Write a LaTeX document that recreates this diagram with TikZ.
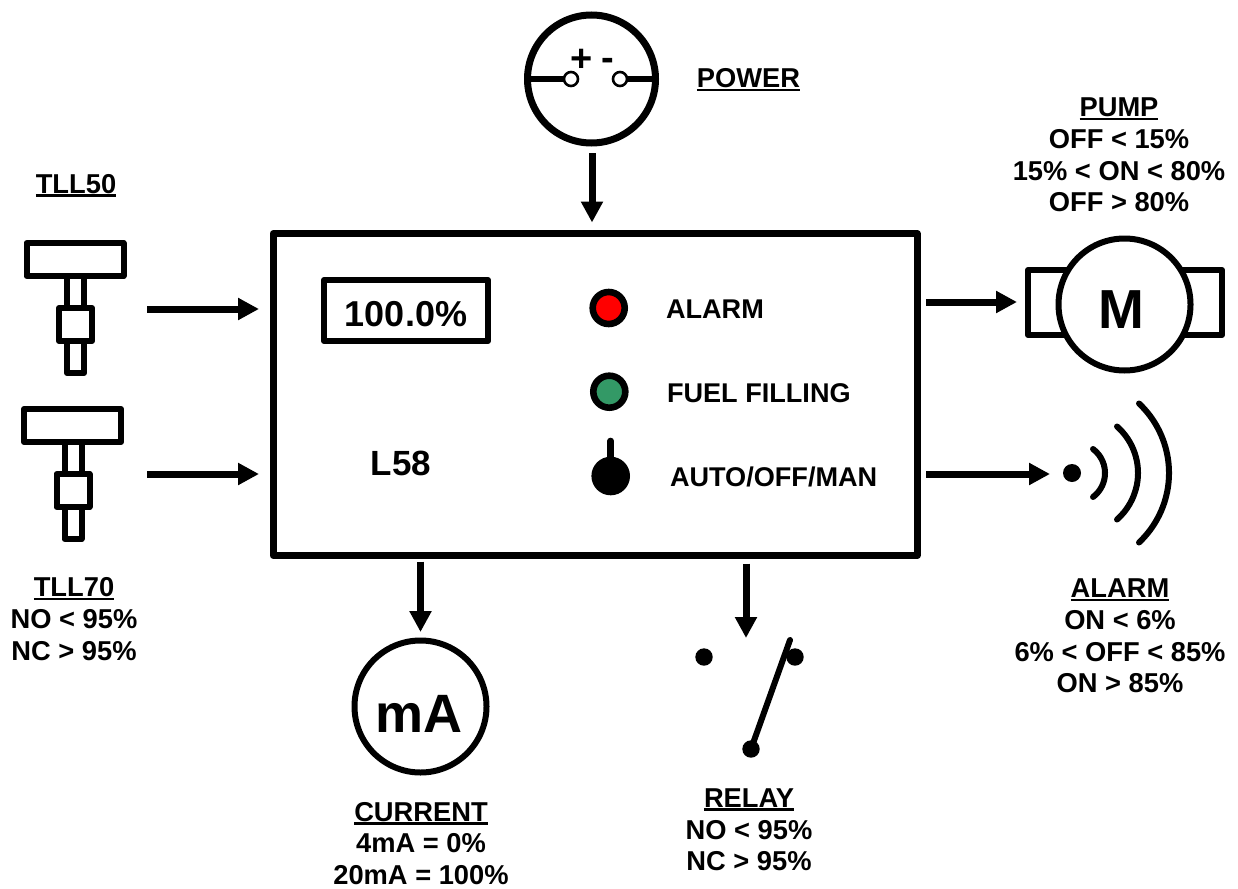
\documentclass[tikz,border=0pt]{standalone}
\usepackage{fontspec}
\setmainfont{Liberation Sans}[BoldFont={Liberation Sans Bold}]
\usetikzlibrary{arrows.meta}
\newcommand{\ulbl}[1]{\setbox0\hbox{#1}\rlap{\rule[-3.4pt]{\wd0}{2.6pt}}\box0}
\newcommand{\fs}[1]{\fontsize{#1}{31.6}\selectfont\bfseries}
\tikzset{
  every node/.style={inner sep=0pt,outer sep=0pt},
  arr/.style={line width=7pt,-{Triangle[length=21pt,width=21pt]}},
  lbl/.style={font=\fs{27.3},align=center,text=black},
  panel/.style={font=\fs{27.1},anchor=west},
  frame/.style={draw,line width=6pt,line join=round,fill=white},
  ring/.style={circle,draw,line width=6pt,fill=white},
  led/.style={circle,draw,line width=6.6pt,minimum size=32pt},
  blackdot/.style={circle,fill=black},
  wave/.style={line width=6pt,line cap=round},
  wire/.style={line width=6pt,line cap=round},
  terminal/.style={circle,draw,line width=2.6pt,fill=white,minimum size=14pt}
}
\begin{document}
\begin{tikzpicture}[x=1pt,y=-1pt]
\useasboundingbox (0,0) rectangle (1238,888);
% main unit
\node[frame,line width=7pt,minimum width=644pt,minimum height=322pt] (main) at (595,394.5) {};
\node[frame,minimum width=164pt,minimum height=61pt] (display) at (406,310.5) {};
\node[font=\fs{36}] (readout) at (406,314.5) {100.0\%};
\node[font=\fs{35}] (model) at (401,463) {L58};
\node[led,fill=red] (ledred) at (608.7,308) {};
\node[led,fill={rgb,255:red,51;green,153;blue,102}] (ledgreen) at (609.3,391.7) {};
\node[blackdot,minimum size=38.6pt] (knob) at (610.7,476) {};
\coordinate (knobtop) at (610.7,441);
\draw[line width=6.7pt,line cap=round] (knob.center) -- (knobtop);
\node[panel] (alarmtxt) at (666,309) {ALARM};
\node[panel] (filltxt) at (667,393) {FUEL FILLING};
\node[panel] (modetxt) at (670,477) {AUTO/OFF/MAN};
% power
\node[ring,line width=7pt,minimum size=128pt] (power) at (591.5,79) {};
\node[terminal] (termplus) at (571,79) {};
\node[terminal] (termminus) at (620,79) {};
\draw[line width=6pt] (power.west) -- (termplus.west);
\draw[line width=6pt] (power.east) -- (termminus.east);
\node[font=\fs{38}] (plus) at (582,60) {+};
\node[font=\fs{38}] (minus) at (608,64) {-};
\node[lbl] (powertxt) at (748.5,80) {\ulbl{POWER}};
\coordinate (powerout) at (592,153);
\draw[arr,shorten >=11pt] (powerout) -- (powerout |- main.north);
% level sensors
\node[frame,minimum width=97pt,minimum height=33pt] (tlltopa) at (75,259.5) {};
\node[frame,minimum width=17pt,minimum height=97pt] (tllstema) at (75.5,324.5) {};
\node[frame,minimum width=33pt,minimum height=33pt] (tllboxa) at (75.5,324.5) {};
\node[frame,minimum width=97pt,minimum height=33pt] (tlltopb) at (72.5,425.5) {};
\node[frame,minimum width=17pt,minimum height=97pt] (tllstemb) at (73,490.5) {};
\node[frame,minimum width=33pt,minimum height=33pt] (tllboxb) at (73,490.5) {};
\node[lbl] (tllatxt) at (76,185.5) {\ulbl{TLL50}};
\node[lbl] (tllbtxt) at (74,619) {\ulbl{TLL70}\\NO < 95\%\\NC > 95\%};
\coordinate (tllaout) at (147,309);
\coordinate (tllbout) at (147,474);
\draw[arr,shorten >=14pt] (tllaout) -- (main.west |- tllaout);
\draw[arr,shorten >=14pt] (tllbout) -- (main.west |- tllbout);
% pump
\node[frame,minimum width=194pt,minimum height=65pt] (pumpbody) at (1125,302.5) {};
\node[ring,minimum size=132pt] (pump) at (1124.5,304.5) {};
\node[font=\fs{55}] (pumpm) at (1121,310) {M};
\node[lbl] (pumptxt) at (1119,155) {\ulbl{PUMP}\\OFF < 15\%\\15\% < ON < 80\%\\OFF > 80\%};
\coordinate (pumpin) at (1017,302);
\draw[arr,shorten <=9pt] (main.east |- pumpin) -- (pumpin);
% alarm
\node[blackdot,minimum size=18pt] (horn) at (1072,473) {};
\coordinate (wavea) at (1093,449);
\coordinate (waveb) at (1117,426.5);
\coordinate (wavec) at (1139,403.5);
\draw[wave] (wavea) arc[start angle=-53.13,end angle=53.13,radius=30];
\draw[wave] (waveb) arc[start angle=-48.6,end angle=48.6,radius=62];
\draw[wave] (wavec) arc[start angle=-46.7,end angle=46.7,radius=95.5];
\node[lbl] (alarmout) at (1120,636) {\ulbl{ALARM}\\ON < 6\%\\6\% < OFF < 85\%\\ON > 85\%};
\coordinate (hornin) at (1050,474);
\draw[arr,shorten <=9pt] (main.east |- hornin) -- (hornin);
% current
\node[ring,minimum size=132pt] (meter) at (420.5,706.5) {};
\node[font=\fs{54}] (metertxt) at (419,714) {mA};
\node[lbl] (currenttxt) at (421,843.5) {\ulbl{CURRENT}\\4mA = 0\%\\20mA = 100\%};
\draw[arr,shorten <=6pt,shorten >=8.5pt] (main.south -| meter) -- (meter.north);
% relay
\node[blackdot,minimum size=17.4pt] (contacta) at (704,657) {};
\node[blackdot,minimum size=17.4pt] (contactb) at (795,657) {};
\node[blackdot,minimum size=17.4pt] (contactc) at (751,749) {};
\coordinate (relaytip) at (790,640);
\draw[wire] (contactc.center) -- (relaytip);
\coordinate (relayin) at (746,638);
\draw[arr,shorten <=8pt] (main.south -| relayin) -- (relayin);
\node[lbl] (relaytxt) at (749,830) {\ulbl{RELAY}\\NO < 95\%\\NC > 95\%};
\end{tikzpicture}
\end{document}
